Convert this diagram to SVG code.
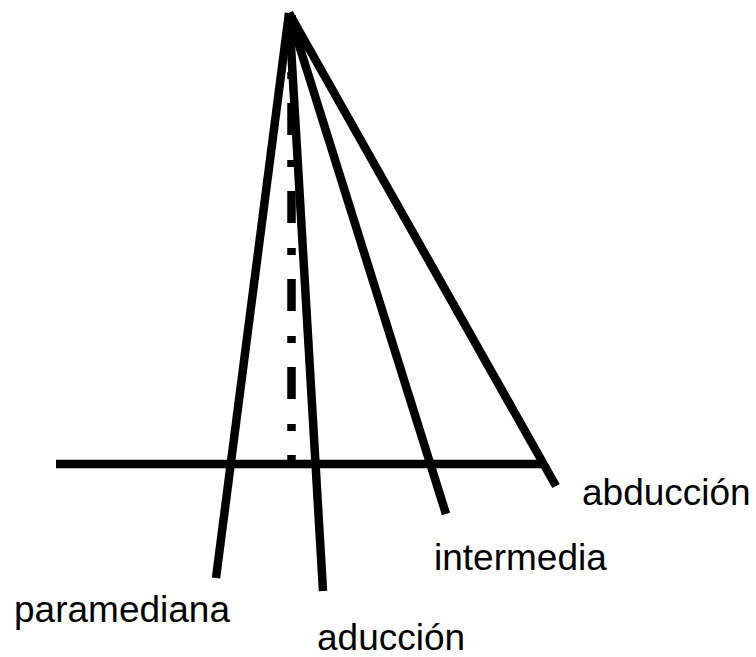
<svg xmlns="http://www.w3.org/2000/svg" width="756" height="657" viewBox="0 0 756 657">
<style>
.ln{stroke:#000;stroke-width:8.5;stroke-linecap:butt;fill:none}
.lbl{font-family:"Liberation Sans",Arial,sans-serif;font-size:37px;fill:#000}
</style>
<rect width="756" height="657" fill="#fff"/>
<g id="connectors">
<line class="ln" x1="289" y1="13" x2="216" y2="578"/>
<line class="ln" x1="289" y1="13" x2="323" y2="591"/>
<line class="ln" x1="289" y1="13" x2="446" y2="514"/>
<line class="ln" x1="289" y1="13" x2="556" y2="486"/>
<line class="ln" x1="291.5" y1="15" x2="291.5" y2="463" stroke-dasharray="32 25 7 24"/>
<line class="ln" x1="56" y1="464" x2="545" y2="464" stroke-width="12"/>
</g>
<g id="paramediana"><text class="lbl" x="14" y="622">paramediana</text></g>
<g id="aduccion"><text class="lbl" x="317" y="650">aducción</text></g>
<g id="intermedia"><text class="lbl" x="434" y="570">intermedia</text></g>
<g id="abduccion"><text class="lbl" x="582" y="505">abducción</text></g>
</svg>
